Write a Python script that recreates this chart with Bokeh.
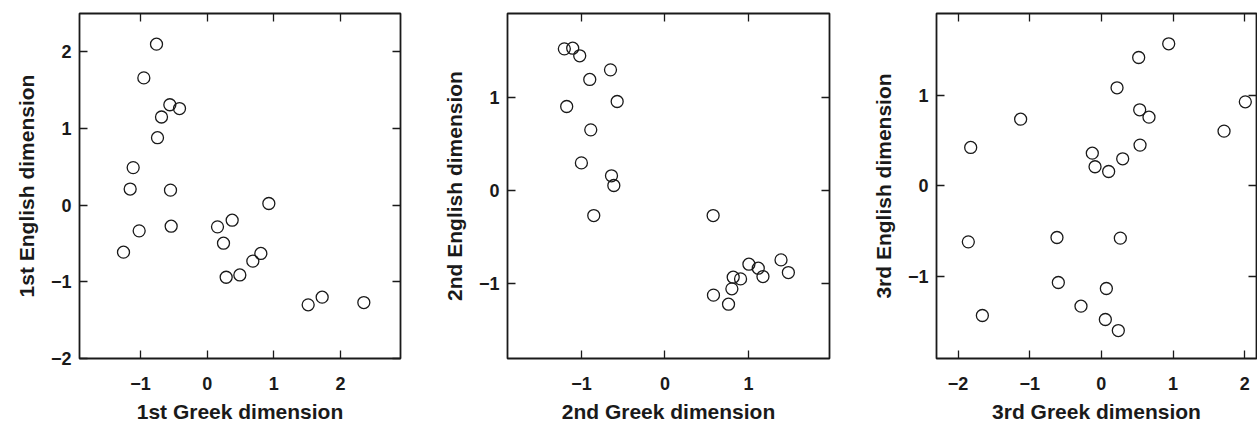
from bokeh.plotting import figure
from bokeh.layouts import row
from bokeh.models import Range1d, FixedTicker, LinearAxis, CustomJSTickFormatter
from bokeh.embed import file_html
from bokeh.resources import INLINE

# Panel 1: 1st Greek dimension vs 1st English dimension
greek1 = [-0.76, -0.95, -0.56, -0.415, -0.685, -0.745, -1.11, -1.155, -0.55, -1.02, -0.54, -1.255,
          0.155, 0.375, 0.245, 0.925, 0.805, 0.685, 0.285, 0.49, 1.515, 1.725, 2.35]
english1 = [2.10, 1.66, 1.31, 1.26, 1.15, 0.88, 0.49, 0.21, 0.196, -0.335, -0.274, -0.613,
            -0.283, -0.196, -0.496, 0.022, -0.63, -0.73, -0.94, -0.91, -1.30, -1.20, -1.27]

# Panel 2
greek2 = [-1.204, -1.104, -1.02, -0.652, -0.90, -0.572, -1.176, -0.888, -1.0, -0.64, -0.612, -0.852,
          0.576, 1.004, 1.116, 1.388, 1.476, 1.172, 0.816, 0.904, 0.80, 0.58, 0.76]
english2 = [1.523, 1.530, 1.448, 1.297, 1.194, 0.957, 0.903, 0.652, 0.297, 0.158, 0.054, -0.269,
            -0.269, -0.792, -0.835, -0.746, -0.882, -0.925, -0.932, -0.95, -1.057, -1.125, -1.222]

# Panel 3
greek3 = [0.94, 0.521, 0.219, 0.535, 0.665, 2.009, 1.712, 0.54, -1.126, -1.823, -0.126, 0.298,
          -0.088, 0.102, -1.856, -0.619, 0.265, -0.60, 0.07, -0.284, -1.66, 0.056, 0.237]
english3 = [1.566, 1.415, 1.081, 0.838, 0.757, 0.926, 0.603, 0.449, 0.735, 0.423, 0.360, 0.298,
            0.210, 0.158, -0.618, -0.570, -0.577, -1.066, -1.132, -1.327, -1.43, -1.474, -1.596]

xlabels = ["1st Greek dimension", "2nd Greek dimension", "3rd Greek dimension"]
ylabels = ["1st English dimension", "2nd English dimension", "3rd English dimension"]
xticks = [[-1, 0, 1, 2], [-1, 0, 1, 2], [-2, -1, 0, 1, 2]]
yticks = [[-2, -1, 0, 1, 2], [-1, 0, 1], [-1, 0, 1]]

FONT = "Liberation Sans"
INK = "#1a1a1a"

fmt_code = "return tick < 0 ? '\u2212' + Math.abs(tick) : '' + tick;"
blank_code = "return '';"


def make_panel(xs, ys, xr, yr, xt, yt, xl, yl, bl, fw, br):
    p = figure(output_backend="svg", toolbar_location=None,
               frame_width=fw, frame_height=345,
               min_border_left=bl, min_border_right=br, min_border_top=13, min_border_bottom=65,
               x_range=Range1d(*xr), y_range=Range1d(*yr),
               background_fill_color="white", border_fill_color="white")
    p.grid.visible = False
    p.outline_line_color = INK
    p.outline_line_width = 1.8
    p.outline_line_alpha = 1.0
    p.scatter(xs, ys, size=12, marker="circle", fill_color="white", fill_alpha=0,
              line_color=INK, line_width=1.3)
    for ax in (p.xaxis[0], p.yaxis[0]):
        ax.major_tick_in = 8
        ax.major_tick_out = 0
        ax.minor_tick_in = 0
        ax.minor_tick_out = 0
        ax.major_tick_line_color = INK
        ax.major_tick_line_width = 1.3
        ax.axis_line_color = None
        ax.major_label_text_font = FONT
        ax.major_label_text_font_style = "bold"
        ax.major_label_text_font_size = "18px"
        ax.major_label_text_color = INK
        ax.axis_label_text_font = FONT
        ax.axis_label_text_font_style = "bold"
        ax.axis_label_text_font_size = "21px"
        ax.axis_label_text_color = INK
        ax.formatter = CustomJSTickFormatter(code=fmt_code)
    p.xaxis[0].ticker = FixedTicker(ticks=xt)
    p.yaxis[0].ticker = FixedTicker(ticks=yt)
    p.xaxis[0].axis_label = xl
    p.yaxis[0].axis_label = yl
    p.xaxis[0].major_label_standoff = 18
    p.xaxis[0].axis_label_standoff = 7
    p.yaxis[0].major_label_standoff = 8
    p.yaxis[0].axis_label_standoff = 10
    # mirrored ticks on top and right
    for loc, tk in (("above", xt), ("right", yt)):
        ax = LinearAxis(ticker=FixedTicker(ticks=tk))
        ax.major_tick_in = 8
        ax.major_tick_out = 0
        ax.minor_tick_in = 0
        ax.minor_tick_out = 0
        ax.major_tick_line_color = INK
        ax.major_tick_line_width = 1.3
        ax.axis_line_color = None
        ax.formatter = CustomJSTickFormatter(code=blank_code)
        ax.major_label_standoff = 0
        p.add_layout(ax, loc)
    return p


p1 = make_panel(greek1, english1, (-1.915, 2.90), (-2.0, 2.5), xticks[0], yticks[0],
                xlabels[0], ylabels[0], 79, 321, 36)
p2 = make_panel(greek2, english2, (-1.884, 1.968), (-1.806, 1.903), xticks[1], yticks[1],
                xlabels[1], ylabels[1], 71, 322, 35)
p3 = make_panel(greek3, english3, (-2.30, 2.165), (-1.904, 1.90), xticks[2], yticks[2],
                xlabels[2], ylabels[2], 72, 320, 1)

layout = row(p1, p2, p3, spacing=0)
open("out.html", "w").write(file_html(layout, INLINE))
